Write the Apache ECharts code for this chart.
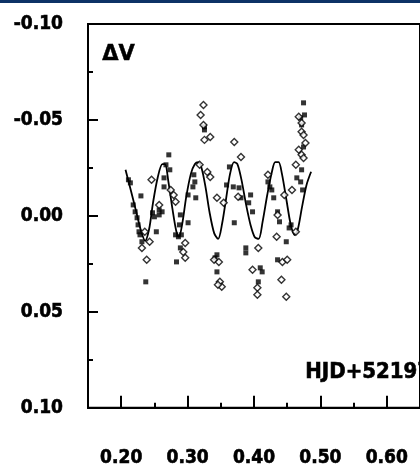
<!DOCTYPE html>
<html><head><meta charset="utf-8">
<script src="https://cdn.jsdelivr.net/npm/echarts@6/dist/echarts.min.js"></script>
<style>html,body{margin:0;padding:0;background:#fff}#c{width:420px;height:468px}</style>
</head><body><div id="c"></div>
<script>
// Phase (x) and delta V (y) data
const xMajorTicks = [0.20, 0.30, 0.40, 0.50, 0.60];
const xMinorTicks = [0.25, 0.35, 0.45, 0.55];
const yTickLabels = [-0.10, -0.05, 0.00, 0.05, 0.10];
const yLabel = 'ΔV';
const dateLabel = 'HJD+52197';

const modelCurve = [
 [0.2065,-0.024],[0.214,-0.014],[0.222,-0.003],[0.230,0.008],[0.236,0.013],[0.242,0.007],
 [0.248,-0.007],[0.255,-0.020],[0.262,-0.027],[0.266,-0.027],[0.271,-0.018],[0.277,-0.004],
 [0.283,0.008],[0.287,0.011],[0.292,0.004],[0.298,-0.010],[0.305,-0.022],[0.311,-0.027],
 [0.316,-0.028],[0.321,-0.025],[0.327,-0.015],[0.333,-0.002],[0.340,0.009],[0.346,0.012],
 [0.352,0.004],[0.358,-0.009],[0.364,-0.022],[0.370,-0.028],[0.375,-0.027],[0.381,-0.019],
 [0.388,-0.006],[0.395,0.005],[0.401,0.011],[0.407,0.012],[0.413,0.003],[0.420,-0.011],
 [0.427,-0.023],[0.432,-0.028],[0.437,-0.028],[0.442,-0.022],[0.449,-0.008],[0.455,0.004],
 [0.461,0.010],[0.466,0.007],[0.472,-0.004],[0.479,-0.016],[0.486,-0.023]
];

const filledPoints = [
 [0.2109,-0.0188],[0.2138,-0.0172],[0.2297,-0.0104],[0.2181,-0.0057],[0.2210,-0.0021],
 [0.2239,0.0010],[0.2254,0.0047],[0.2268,0.0083],[0.2283,0.0099],[0.2312,0.0135],
 [0.2529,0.0083],[0.2370,0.0344],[0.2500,0.0005],[0.2572,-0.0031],[0.2616,-0.0021],
 [0.2645,-0.0198],[0.2674,-0.0266],[0.2717,-0.0318],[0.2645,-0.0151],[0.2819,0.0099],
 [0.2862,0.0109],[0.2906,0.0099],[0.2891,-0.0005],[0.2833,0.0240],[0.2891,0.0167],
 [0.3080,-0.0151],[0.3109,-0.0177],[0.3123,-0.0094],[0.3007,-0.0109],[0.3007,0.0036],
 [0.3254,-0.0464],[0.3254,-0.0448],[0.3630,-0.0255],[0.3703,0.0036],[0.3587,-0.0161],
 [0.3688,-0.0151],[0.3775,-0.0146],[0.3804,-0.0094],[0.3877,0.0167],[0.3877,0.0193],
 [0.3920,-0.0068],[0.3978,-0.0021],[0.4094,0.0271],[0.4123,0.0292],[0.4065,0.0344],
 [0.4210,-0.0177],[0.4239,-0.0151],[0.4268,-0.0135],[0.4355,-0.0021],[0.4384,0.0031],
 [0.4486,0.0135],[0.4355,0.0229],[0.4558,0.0047],[0.4529,0.0063],[0.4703,-0.0510],
 [0.4717,-0.0474],[0.4746,-0.0359],[0.4645,-0.0198],[0.4703,-0.0177],[0.3442,0.0203],
 [0.3442,0.0292],[0.3413,0.0219],[0.2471,-0.0016],[0.2572,-0.0005],[0.4746,-0.0589],
 [0.4761,-0.0526],[0.2732,-0.0240],[0.2877,0.0047],[0.3094,-0.0214],[0.3949,-0.0109],
 [0.4297,-0.0094],[0.4717,-0.0240],[0.4732,-0.0135]
];

const openPoints = [
 [0.2457,-0.0188],[0.2572,-0.0057],[0.2355,0.0083],[0.2428,0.0135],[0.2312,0.0167],
 [0.2384,0.0229],[0.2746,-0.0135],[0.2819,-0.0073],[0.2790,-0.0109],[0.2964,0.0141],
 [0.2935,0.0188],[0.2964,0.0219],[0.3239,-0.0578],[0.3196,-0.0526],[0.3254,-0.0396],
 [0.3341,-0.0411],[0.3181,-0.0266],[0.3297,-0.0229],[0.3341,-0.0203],[0.3442,-0.0094],
 [0.3543,-0.0068],[0.3399,0.0229],[0.3471,0.0240],[0.3486,0.0344],[0.3514,0.0370],
 [0.3703,-0.0385],[0.3804,-0.0307],[0.3761,-0.0099],[0.4065,0.0167],[0.3978,0.0281],
 [0.4051,0.0375],[0.4051,0.0411],[0.4210,-0.0214],[0.4457,-0.0109],[0.4355,-0.0005],
 [0.4341,0.0109],[0.4428,0.0240],[0.4500,0.0229],[0.4413,0.0333],[0.4486,0.0422],
 [0.4572,-0.0135],[0.4630,-0.0266],[0.4630,0.0083],[0.4717,-0.0438],[0.4746,-0.0422],
 [0.4674,-0.0344],[0.4717,-0.0318],[0.4775,-0.0380],[0.4746,-0.0302],[0.4674,-0.0516],
 [0.4717,-0.0484],[0.3239,-0.0474],[0.3457,0.0359]
];

const FONT = "'Liberation Sans Narrow','DejaVu Sans Condensed','Arial Narrow','DejaVu Sans',sans-serif";
const labelStyle = {fontFamily: FONT, fontWeight: 'bold', fontSize: 19, color: '#000',
  textBorderColor: '#000', textBorderWidth: 0.6};

const chart = echarts.init(document.getElementById('c'), null, {renderer: 'canvas'});
chart.setOption({
  animation: false,
  backgroundColor: '#fff',
  grid: {left: 88, top: 24, width: 345, height: 384, show: true, borderColor: '#000', borderWidth: 2, backgroundColor: 'transparent'},
  graphic: [
    {type: 'rect', left: 0, top: 0, shape: {width: 420, height: 3}, style: {fill: '#0d3266'}, z: 100},
    {type: 'text', left: 102, top: 44, style: {text: yLabel, font: "bold 21px 'DejaVu Sans'", fill: '#000', stroke: '#000', lineWidth: 0.5}, z: 100},
    {type: 'text', left: 305, top: 361, style: {text: dateLabel, font: "bold 22px " + FONT, fill: '#000', stroke: '#000', lineWidth: 0.6}, z: 100}
  ],
  xAxis: [{
    type: 'value', min: 0.15, max: 0.65, gridIndex: 0,
    splitLine: {show: false},
    axisLine: {show: true, onZero: false, lineStyle: {color: '#000', width: 2}},
    axisTick: {show: true, inside: true, length: 12, customValues: xMajorTicks, lineStyle: {color: '#000', width: 2}},
    axisLabel: Object.assign({customValues: xMajorTicks, margin: 41, formatter: v => v.toFixed(2)}, labelStyle)
  }, {
    type: 'value', min: 0.15, max: 0.65, gridIndex: 0, position: 'bottom',
    splitLine: {show: false},
    axisLine: {show: false, onZero: false},
    axisTick: {show: true, inside: true, length: 5, customValues: xMinorTicks, lineStyle: {color: '#000', width: 2}},
    axisLabel: {show: false}
  }],
  yAxis: {
    type: 'value', min: -0.10, max: 0.10, interval: 0.05, inverse: true,
    splitLine: {show: false},
    axisLine: {show: true, onZero: false, lineStyle: {color: '#000', width: 2}},
    axisTick: {show: true, inside: true, length: 10, lineStyle: {color: '#000', width: 2}},
    minorTick: {show: true, splitNumber: 2, length: 5, lineStyle: {color: '#000', width: 2}},
    axisLabel: Object.assign({margin: 25, customValues: yTickLabels, formatter: v => v.toFixed(2)}, labelStyle)
  },
  series: [
    {type: 'line', data: modelCurve, showSymbol: false, smooth: 0.3, lineStyle: {color: '#000', width: 1.8}, z: 2},
    {type: 'scatter', data: filledPoints, symbol: 'rect', symbolSize: 5, itemStyle: {color: '#000'}, z: 3},
    {type: 'scatter', data: openPoints, symbol: 'diamond', symbolSize: 7, itemStyle: {color: '#fff', borderColor: '#000', borderWidth: 1.4}, z: 4}
  ]
});
</script></body></html>
